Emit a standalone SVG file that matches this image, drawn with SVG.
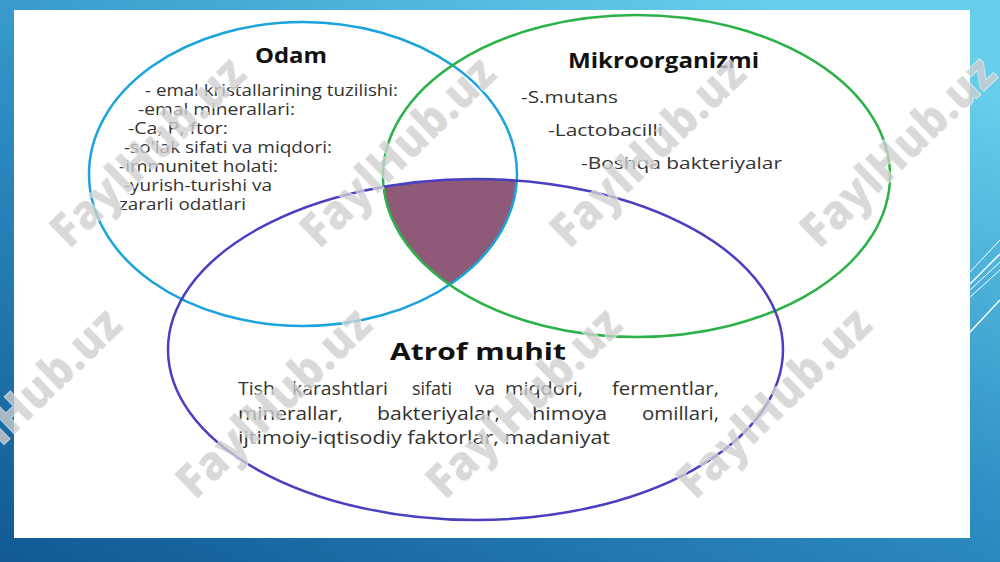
<svg xmlns="http://www.w3.org/2000/svg" width="1000" height="562" viewBox="0 0 1000 562">
<defs>
<linearGradient id="bg" x1="0" y1="1" x2="0.75" y2="0">
<stop offset="0" stop-color="#115a94"/>
<stop offset="0.55" stop-color="#2f8fc4"/>
<stop offset="1" stop-color="#66cdea"/>
</linearGradient>
<clipPath id="cMik"><ellipse cx="636.5" cy="176" rx="253.5" ry="161"/></clipPath>
<clipPath id="cAtr"><ellipse cx="475.5" cy="349.5" rx="307.5" ry="170.5"/></clipPath>
<style>
.t{font-family:"Open Sans","Noto Sans","Liberation Sans",sans-serif;fill:#333333;}
.h{font-family:"Open Sans","Noto Sans","Liberation Sans",sans-serif;font-weight:bold;fill:#111111;}
.s{font-size:16.5px;}
.b{font-size:18px;}
.wm{font-family:"Open Sans","Liberation Sans",sans-serif;font-weight:800;font-size:48px;fill:#cfcfcf;fill-opacity:0.8;stroke:#ffffff;stroke-opacity:0.6;stroke-width:0.8;}
.dl{stroke:#ffffff;fill:none;}
</style>
</defs>
<rect x="0" y="0" width="1000" height="562" fill="url(#bg)"/>
<g class="dl">
<line x1="970" y1="272" x2="1000" y2="240" stroke-width="1"/>
<line x1="970" y1="284" x2="1000" y2="254" stroke-width="1.5"/>
<line x1="970" y1="290" x2="1000" y2="262" stroke-width="1"/>
<line x1="970" y1="297" x2="1000" y2="270" stroke-width="1"/>
<line x1="970" y1="332" x2="1000" y2="300" stroke-width="1.5"/>
</g>
<rect x="14" y="10" width="956" height="528" fill="#ffffff"/>
<g id="intersection" clip-path="url(#cAtr)">
<ellipse cx="303" cy="174" rx="214" ry="152" fill="#8e5a78" clip-path="url(#cMik)"/>
</g>
<g id="odam">
<ellipse cx="303" cy="174" rx="214" ry="152" fill="none" stroke="#1ba3dd" stroke-width="2.5"/>
<text class="h" x="255" y="63" font-size="21" textLength="72" lengthAdjust="spacingAndGlyphs">Odam</text>
<text class="t s" x="145" y="96" textLength="253" lengthAdjust="spacingAndGlyphs">- emal kristallarining tuzilishi:</text>
<text class="t s" x="138" y="115" textLength="157" lengthAdjust="spacingAndGlyphs">-emal minerallari:</text>
<text class="t s" x="128" y="134" textLength="100" lengthAdjust="spacingAndGlyphs">-Ca, P, ftor:</text>
<text class="t s" x="124" y="153" textLength="208" lengthAdjust="spacingAndGlyphs">-so'lak sifati va miqdori:</text>
<text class="t s" x="119" y="172" textLength="159" lengthAdjust="spacingAndGlyphs">-immunitet holati:</text>
<text class="t s" x="124" y="191" textLength="148" lengthAdjust="spacingAndGlyphs">-yurish-turishi va</text>
<text class="t s" x="119" y="210" textLength="127" lengthAdjust="spacingAndGlyphs">zararli odatlari</text>
</g>
<g id="mikroorganizmi">
<ellipse cx="636.5" cy="176" rx="253.5" ry="161" fill="none" stroke="#2db24a" stroke-width="2.5"/>
<text class="h" x="568" y="68" font-size="21" textLength="191" lengthAdjust="spacingAndGlyphs">Mikroorganizmi</text>
<text class="t s" x="521" y="103" textLength="97" lengthAdjust="spacingAndGlyphs">-S.mutans</text>
<text class="t s" x="548" y="136" textLength="115" lengthAdjust="spacingAndGlyphs">-Lactobacilli</text>
<text class="t s" x="581" y="169" textLength="201" lengthAdjust="spacingAndGlyphs">-Boshqa bakteriyalar</text>
</g>
<g id="atrof-muhit">
<ellipse cx="475.5" cy="349.5" rx="307.5" ry="170.5" fill="none" stroke="#4a3fc0" stroke-width="2.5"/>
<text class="h" x="390" y="360" font-size="24" textLength="176" lengthAdjust="spacingAndGlyphs">Atrof muhit</text>
<text class="t b" x="238" y="395" textLength="37" lengthAdjust="spacingAndGlyphs">Tish</text>
<text class="t b" x="292" y="395" textLength="96" lengthAdjust="spacingAndGlyphs">karashtlari</text>
<text class="t b" x="412" y="395" textLength="40" lengthAdjust="spacingAndGlyphs">sifati</text>
<text class="t b" x="475" y="395" textLength="20" lengthAdjust="spacingAndGlyphs">va</text>
<text class="t b" x="505" y="395" textLength="78" lengthAdjust="spacingAndGlyphs">miqdori,</text>
<text class="t b" x="612" y="395" textLength="107" lengthAdjust="spacingAndGlyphs">fermentlar,</text>
<text class="t b" x="238" y="420" textLength="105" lengthAdjust="spacingAndGlyphs">minerallar,</text>
<text class="t b" x="377" y="420" textLength="123" lengthAdjust="spacingAndGlyphs">bakteriyalar,</text>
<text class="t b" x="532" y="420" textLength="75" lengthAdjust="spacingAndGlyphs">himoya</text>
<text class="t b" x="642" y="420" textLength="77" lengthAdjust="spacingAndGlyphs">omillari,</text>
<text class="t b" x="238" y="444" textLength="372" lengthAdjust="spacingAndGlyphs">ijtimoiy-iqtisodiy faktorlar, madaniyat</text>
</g>
<g id="watermarks" class="wm" text-anchor="middle">
<text x="148" y="168" transform="rotate(-44 148 152)" textLength="250" lengthAdjust="spacingAndGlyphs">FaylHub.uz</text>
<text x="398" y="168" transform="rotate(-44 398 152)" textLength="250" lengthAdjust="spacingAndGlyphs">FaylHub.uz</text>
<text x="648" y="168" transform="rotate(-44 648 152)" textLength="250" lengthAdjust="spacingAndGlyphs">FaylHub.uz</text>
<text x="898" y="168" transform="rotate(-44 898 152)" textLength="250" lengthAdjust="spacingAndGlyphs">FaylHub.uz</text>
<text x="24" y="419" transform="rotate(-44 24 403)" textLength="250" lengthAdjust="spacingAndGlyphs">FaylHub.uz</text>
<text x="274" y="419" transform="rotate(-44 274 403)" textLength="250" lengthAdjust="spacingAndGlyphs">FaylHub.uz</text>
<text x="524" y="419" transform="rotate(-44 524 403)" textLength="250" lengthAdjust="spacingAndGlyphs">FaylHub.uz</text>
<text x="774" y="419" transform="rotate(-44 774 403)" textLength="250" lengthAdjust="spacingAndGlyphs">FaylHub.uz</text>
</g>
</svg>
